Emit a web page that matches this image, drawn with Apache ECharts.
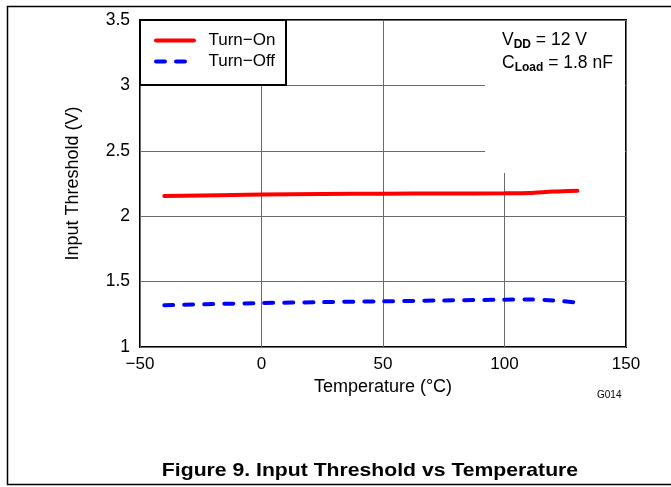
<!DOCTYPE html>
<html>
<head>
<meta charset="utf-8">
<script src="https://cdn.jsdelivr.net/npm/echarts@6/dist/echarts.min.js"></script>
<style>
html,body{margin:0;padding:0;background:#fff;}
#chart{width:671px;height:487px;}
</style>
</head>
<body>
<div id="chart"></div>
<script>
// Data
var turnOnTemps  = [-40, 0, 25, 50, 75, 100, 110, 120, 130];
var turnOnVolts  = [2.155, 2.165, 2.170, 2.172, 2.174, 2.175, 2.177, 2.188, 2.195];
var turnOffTemps = [-40, 0, 25, 50, 75, 100, 110, 120, 130];
var turnOffVolts = [1.320, 1.336, 1.343, 1.349, 1.356, 1.362, 1.364, 1.356, 1.340];
var xTicks = [-50, 0, 50, 100, 150];
var yTicks = [1, 1.5, 2, 2.5, 3, 3.5];
var seriesNames = ['Turn\u2212On', 'Turn\u2212Off'];

function zip(a, b) { return a.map(function (v, i) { return [v, b[i]]; }); }

var FONT = 'Liberation Sans, Arial, sans-serif';
var chart = echarts.init(document.getElementById('chart'), null, {renderer: 'canvas'});

var option = {
  backgroundColor: '#fff',
  animation: false,
  grid: {left: 140, top: 20, right: 45, bottom: 140, show: true, borderColor: '#000', borderWidth: 2, backgroundColor: 'transparent'},
  legend: {
    orient: 'vertical', left: 154, top: 32, padding: 0,
    itemWidth: 38, itemHeight: 14, itemGap: 4, z: 10,
    formatter: function (n) { return '  ' + n; },
    textStyle: {fontFamily: FONT, fontSize: 17, color: '#000'},
    itemStyle: {opacity: 0},
    data: [
      {name: seriesNames[0], lineStyle: {color: '#ff0000', width: 4, cap: 'round'}},
      {name: seriesNames[1], lineStyle: {color: '#0000ff', width: 4, type: [9, 11], cap: 'round'}}
    ]
  },
  xAxis: {
    type: 'value', min: xTicks[0], max: xTicks[xTicks.length - 1], interval: 50,
    name: 'Temperature (\u00B0C)', nameLocation: 'middle', nameGap: 30,
    nameTextStyle: {fontFamily: FONT, fontSize: 18, color: '#000'},
    axisLine: {show: false}, axisTick: {show: false},
    axisLabel: {fontFamily: FONT, fontSize: 17, color: '#000', margin: 9,
      formatter: function (v) { return String(v).replace('-', '\u2212'); }},
    splitLine: {show: true, lineStyle: {color: '#6a6a6a', width: 1}}
  },
  yAxis: {
    type: 'value', min: yTicks[0], max: yTicks[yTicks.length - 1], interval: 0.5,
    name: 'Input Threshold (V)', nameLocation: 'middle', nameGap: 58, nameRotate: 90,
    nameTextStyle: {fontFamily: FONT, fontSize: 18, color: '#000'},
    axisLine: {show: false}, axisTick: {show: false},
    axisLabel: {fontFamily: FONT, fontSize: 17.5, color: '#000', margin: 10},
    splitLine: {show: true, lineStyle: {color: '#6a6a6a', width: 1}}
  },
  series: [
    {name: seriesNames[0], type: 'line', data: zip(turnOnTemps, turnOnVolts), smooth: 0.3,
     symbol: 'none', showSymbol: false, z: 2,
     lineStyle: {color: '#ff0000', width: 4, cap: 'round'}, itemStyle: {color: '#ff0000'}},
    {name: seriesNames[1], type: 'line', data: zip(turnOffTemps, turnOffVolts), smooth: 0.3,
     symbol: 'none', showSymbol: false, z: 2,
     lineStyle: {color: '#0000ff', width: 4, type: [9, 11], cap: 'round'}, itemStyle: {color: '#0000ff'}}
  ],
  graphic: [
    // legend box
    {type: 'rect', z: 3, shape: {x: 140, y: 20, width: 146, height: 65},
     style: {fill: '#fff', stroke: '#000', lineWidth: 2}},
    // annotation box (hides grid lines)
    {type: 'rect', z: 3, shape: {x: 485, y: 21, width: 140, height: 152},
     style: {fill: '#fff', stroke: null}},
    {type: 'text', z: 5, left: 502, top: 31,
     style: {text: '{a|V}{b|DD}{a| = 12 V}', fill: '#000',
       rich: {a: {fontFamily: FONT, fontSize: 17.5, lineHeight: 22, verticalAlign: 'top'},
              b: {fontFamily: FONT, fontSize: 12, fontWeight: 'bold', lineHeight: 14, verticalAlign: 'top', padding: [8,0,0,0]}}}},
    {type: 'text', z: 5, left: 502, top: 54,
     style: {text: '{a|C}{b|Load}{a| = 1.8 nF}', fill: '#000',
       rich: {a: {fontFamily: FONT, fontSize: 17.5, lineHeight: 22, verticalAlign: 'top'},
              b: {fontFamily: FONT, fontSize: 12, fontWeight: 'bold', lineHeight: 14, verticalAlign: 'top', padding: [8,0,0,0]}}}},
    {type: 'text', z: 5, left: 597, top: 390,
     style: {text: 'G014', fill: '#000', font: '10px ' + FONT}},
    {type: 'text', z: 5, x: 370, y: 471, scaleX: 1.145, originX: 0,
     style: {text: 'Figure 9. Input Threshold vs Temperature', fill: '#000', font: 'bold 18.5px ' + FONT,
       align: 'center', verticalAlign: 'middle'}},
    // outer frame
    {type: 'polyline', z: 5, shape: {points: [[671, 6.5], [7.5, 6.5], [7.5, 484.5], [671, 484.5]]},
     style: {stroke: '#000', lineWidth: 1.5, fill: null}}
  ]
};
chart.setOption(option);
</script>
</body>
</html>
